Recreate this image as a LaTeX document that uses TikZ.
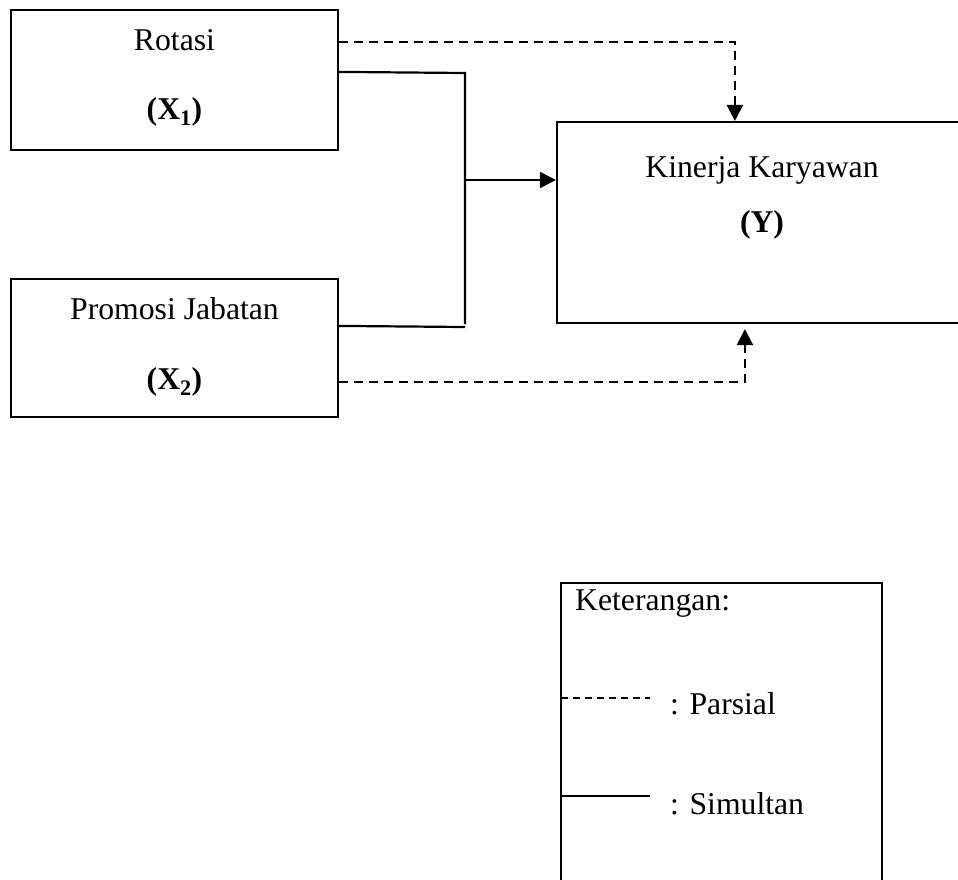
\documentclass[tikz,border=0pt]{standalone}
\usepackage{fontspec}
\setmainfont{Liberation Serif}
\usetikzlibrary{arrows.meta,calc}
\begin{document}
\begin{tikzpicture}[x=1pt,y=-1pt,
  box/.style={draw,line width=2.2pt,inner sep=0pt},
  lbl/.style={font=\fontsize{31.7}{38}\selectfont,inner sep=0pt},
  solidline/.style={line width=2.2pt},
  dashline/.style={line width=2.4pt,dash pattern=on 9pt off 6pt},
  legdash/.style={line width=1.6pt,dash pattern=on 7pt off 5pt},
  tip/.style={-{Triangle[length=16pt,width=16pt]}}]
\useasboundingbox (0,0) rectangle (958,879);
\clip (0,0) rectangle (958,879);
% boxes
\node[box,minimum width=327pt,minimum height=140pt] (r) at (174.5,80) {};
\node[box,minimum width=327pt,minimum height=138pt] (p) at (174.5,348) {};
\node[box,minimum width=410pt,minimum height=201pt] (k) at (762,222.5) {};
\node[box,minimum width=321pt,minimum height=400pt] (ket) at (721.5,783) {};
% texts
\node[lbl,anchor=base] (rt1) at (174.5,50) {Rotasi};
\node[lbl,anchor=base] (rt2) at (174.5,119) {\textbf{(X\textsubscript{1})}};
\node[lbl,anchor=base] (pt1) at (174.5,319) {Promosi Jabatan};
\node[lbl,anchor=base] (pt2) at (174.5,389) {\textbf{(X\textsubscript{2})}};
\node[lbl,anchor=base] (kt1) at (762,177) {Kinerja Karyawan};
\node[lbl,anchor=base] (kt2) at (762,232) {\textbf{(Y)}};
\node[lbl,anchor=base west] (lt0) at (575,610) {Keterangan:};
\node[lbl,anchor=base west] (lt1) at (670,714) {: Parsial};
\node[lbl,anchor=base west] (lt2) at (670,814) {: Simultan};
% junction coordinates
\coordinate (jt) at (465,73);
\coordinate (jm) at (465,180);
\coordinate (jb) at (465,324);
% connectors
\draw[dashline,tip] ($(r.north east)+(0,33)$) -| ($(k.north west)+(179,0)$);
\draw[solidline] ($(r.north east)+(0,63)$) -- (jt) -- (jb);
\draw[solidline] ($(p.north east)+(0,48)$) -- ($(jb)+(0,3)$);
\draw[solidline,tip] (jm) -- (k.west |- jm);
\draw[dashline,tip] ($(p.north east)+(0,104)$) -| ($(k.south west)+(189,5)$);
% legend samples
\draw[legdash] ($(ket.north west)+(1,116)$) -- ($(ket.north west)+(90,116)$);
\draw[solidline] ($(ket.north west)+(1,214)$) -- ($(ket.north west)+(90,214)$);
\end{tikzpicture}
\end{document}
